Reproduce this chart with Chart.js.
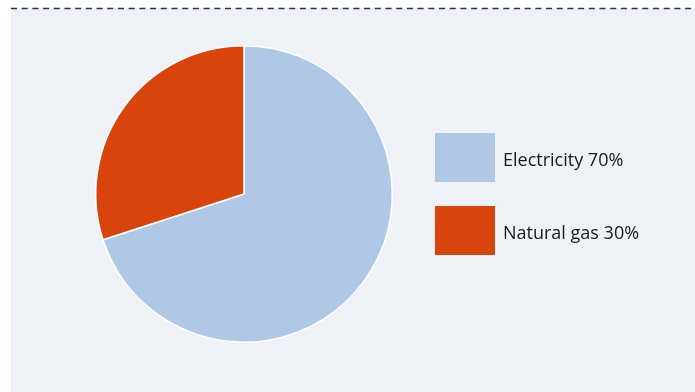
<!DOCTYPE html>
<html>
<head>
<meta charset="utf-8">
<script src="https://cdn.jsdelivr.net/npm/chart.js@4/dist/chart.umd.min.js"></script>
<style>
  html, body { margin: 0; padding: 0; background: #ffffff; }
  #wrap { width: 695px; height: 392px; position: relative; }
</style>
</head>
<body>
<div id="wrap"><canvas id="energy"></canvas></div>
<script>
  const categories = ['Electricity', 'Natural gas'];
  const shares = [70, 30];
  const sliceColors = ['#aec8e6', '#d8440b'];

  // grey panel with dashed rule above it
  const panelBackground = {
    id: 'panelBackground',
    beforeDraw: function (chart) {
      const ctx = chart.ctx;
      ctx.save();
      ctx.fillStyle = '#eef2f6';
      ctx.fillRect(11, 8, chart.width - 11, chart.height - 8);
      ctx.strokeStyle = '#333333';
      ctx.lineWidth = 1.3;
      ctx.setLineDash([6, 4.7]);
      ctx.beginPath();
      ctx.moveTo(11, 8.5);
      ctx.lineTo(chart.width, 8.5);
      ctx.stroke();
      ctx.restore();
    }
  };

  // legend with large swatches to the right of the pie
  const sideLegend = {
    id: 'sideLegend',
    afterDraw: function (chart) {
      const ctx = chart.ctx;
      const ds = chart.data.datasets[0];
      ctx.save();
      ctx.font = '18px "Open Sans", sans-serif';
      ctx.textBaseline = 'alphabetic';
      chart.data.labels.forEach(function (label, i) {
        const top = 133 + i * 73;
        ctx.fillStyle = ds.backgroundColor[i];
        ctx.fillRect(435, top, 60, 49);
        ctx.fillStyle = '#1a1a1a';
        ctx.fillText(label + ' ' + ds.data[i] + '%', 503, top + 33);
      });
      ctx.restore();
    }
  };

  new Chart(document.getElementById('energy'), {
    type: 'pie',
    data: {
      labels: categories,
      datasets: [{
        data: shares,
        backgroundColor: sliceColors,
        borderColor: '#ffffff',
        borderWidth: 1.5
      }]
    },
    options: {
      responsive: true,
      maintainAspectRatio: false,
      animation: false,
      layout: { padding: { top: 45, bottom: 49, left: 95, right: 302 } },
      plugins: {
        legend: { display: false },
        tooltip: { enabled: false }
      }
    },
    plugins: [panelBackground, sideLegend]
  });
</script>
</body>
</html>
